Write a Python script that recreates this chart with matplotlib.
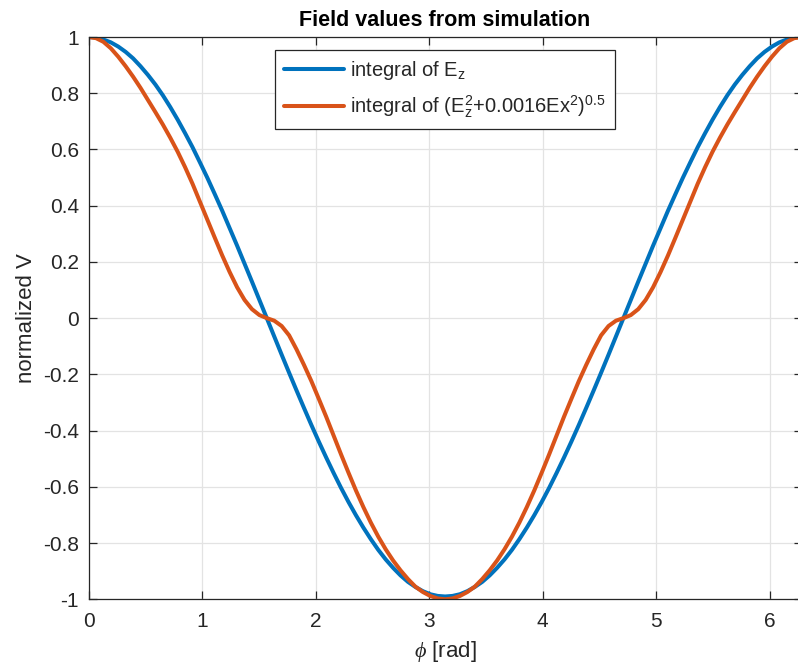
import numpy as np
import matplotlib
matplotlib.use("Agg")
import matplotlib.pyplot as plt

plt.rcParams['font.family'] = ['Liberation Sans', 'DejaVu Sans']
plt.rcParams['mathtext.fontset'] = 'custom'
plt.rcParams['mathtext.rm'] = 'Liberation Sans'
plt.rcParams['mathtext.it'] = 'Liberation Serif:italic'

# angle samples (rad), step pi/48 over one full turn
phi = [k * np.pi / 48 for k in range(97)]

# integral of Ez, normalized
v_ez = [1.000, 0.998, 0.991, 0.981, 0.966, 0.947, 0.924, 0.896, 0.865, 0.831,
        0.793, 0.751, 0.706, 0.658, 0.608, 0.554, 0.499, 0.441, 0.382, 0.320,
        0.258, 0.194, 0.130, 0.065, 0.000, -0.065, -0.130, -0.194, -0.257,
        -0.319, -0.380, -0.439, -0.496, -0.551, -0.604, -0.654, -0.701, -0.745,
        -0.786, -0.824, -0.858, -0.888, -0.915, -0.938, -0.956, -0.971, -0.982,
        -0.988, -0.990,
        -0.988, -0.982, -0.971, -0.956, -0.938, -0.915, -0.888, -0.858, -0.824,
        -0.786, -0.745, -0.701, -0.654, -0.604, -0.551, -0.496, -0.439, -0.380,
        -0.319, -0.257, -0.194, -0.130, -0.065, 0.000, 0.065, 0.130, 0.194,
        0.258, 0.320, 0.382, 0.441, 0.499, 0.554, 0.608, 0.658, 0.706, 0.751,
        0.793, 0.831, 0.865, 0.896, 0.924, 0.947, 0.966, 0.981, 0.991, 0.998,
        1.000]

# integral of (Ez^2 + 0.0016 Ex^2)^0.5, normalized
v_root = [1.000, 0.996, 0.983, 0.960, 0.930, 0.896, 0.859, 0.819, 0.776, 0.733,
          0.689, 0.642, 0.592, 0.537, 0.478, 0.414, 0.350, 0.286, 0.223, 0.164,
          0.110, 0.065, 0.032, 0.011, 0.000, -0.009, -0.028, -0.061, -0.111,
          -0.166, -0.224, -0.287, -0.351, -0.418, -0.485, -0.550, -0.613,
          -0.672, -0.727, -0.777, -0.822, -0.862, -0.897, -0.928, -0.955,
          -0.974, -0.988, -0.997, -1.000,
          -0.997, -0.988, -0.974, -0.955, -0.928, -0.897, -0.862, -0.822,
          -0.777, -0.727, -0.672, -0.613, -0.550, -0.485, -0.418, -0.351,
          -0.287, -0.224, -0.166, -0.111, -0.061, -0.028, -0.009, 0.000, 0.011,
          0.032, 0.065, 0.110, 0.164, 0.223, 0.286, 0.350, 0.414, 0.478, 0.537,
          0.592, 0.642, 0.689, 0.733, 0.776, 0.819, 0.859, 0.896, 0.930, 0.960,
          0.983, 0.996, 1.000]

labels = [r'integral of E$_\mathregular{z}$',
          r'integral of (E$_\mathregular{z}^\mathregular{2}$+0.0016Ex$^\mathregular{2}$)$^\mathregular{0.5}$']

xticks = [0, 1, 2, 3, 4, 5, 6]
yticks = [-1, -0.8, -0.6, -0.4, -0.2, 0, 0.2, 0.4, 0.6, 0.8, 1]

txt = '#262626'

fig = plt.figure(figsize=(7.98, 6.69), dpi=100)
ax = fig.add_axes([88.5 / 798, 69.7 / 669, 713.2 / 798, 562.3 / 669])

ax.plot(phi, v_ez, color='#0072BD', lw=2.9, label=labels[0],
        solid_joinstyle='round', solid_capstyle='round')
ax.plot(phi, v_root, color='#D95319', lw=2.9, label=labels[1],
        solid_joinstyle='round', solid_capstyle='round')

ax.set_xlim(0, 2 * np.pi)
ax.set_ylim(-1, 1)
ax.set_xticks(xticks)
ax.set_yticks(yticks)
ax.set_yticklabels([('%g' % t) for t in yticks])
ax.grid(True, color='#e3e3e3', lw=0.9)
ax.set_axisbelow(True)

ax.tick_params(direction='in', length=6, width=0.9, colors=txt, labelsize=15,
               top=True, right=True, pad=7)
ax.tick_params(axis='x', pad=9)
for sp in ax.spines.values():
    sp.set_color(txt)
    sp.set_linewidth(0.9)

ax.set_title('Field values from simulation', fontsize=15.5, fontweight='bold',
             color='black', pad=8)
ax.set_xlabel(r'$\phi$ [rad]', fontsize=16, color=txt, labelpad=6)
ax.set_ylabel('normalized V', fontsize=16, color=txt, labelpad=4)

leg = ax.legend(loc='upper center', bbox_to_anchor=(0.5, 0.977), fontsize=14.5,
                handlelength=3.0, handletextpad=0.3, borderpad=0.45,
                borderaxespad=0.0, labelspacing=0.6, fancybox=False,
                framealpha=1, edgecolor=txt)
leg.get_frame().set_linewidth(0.9)
for t in leg.get_texts():
    t.set_color(txt)

fig.savefig('out.png', dpi=100)
